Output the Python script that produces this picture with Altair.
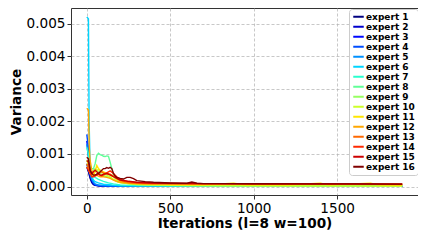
import altair as alt
import pandas as pd

names = [f"expert {i}" for i in range(1, 17)]
colors = ["#000080", "#0000CD", "#0008FF", "#004DFF", "#0091FF", "#00D5FF",
          "#29FFCE", "#60FF97", "#97FF60", "#CEFF29", "#FFE600", "#FFA700",
          "#FF6800", "#FF2900", "#CD0000", "#800000"]

it_a = [0, 10, 20, 30, 40, 50, 70, 100, 150, 200, 300, 500, 800, 1200, 1600, 1890]
e1 = [6, 4.5, 2.5, 1.2, 0.6, 0.35, 0.2, 0.15, 0.12, 0.1, 0.1, 0.08, 0.07, 0.06, 0.05, 0.05]
e2 = [7, 5, 3, 1.5, 0.8, 0.45, 0.25, 0.18, 0.14, 0.12, 0.1, 0.09, 0.08, 0.07, 0.06, 0.06]
e3 = [14, 10, 4, 2, 1, 0.5, 0.3, 0.22, 0.18, 0.15, 0.12, 0.1, 0.09, 0.08, 0.07, 0.06]
e4 = [16, 12, 5, 2.5, 1.2, 0.6, 0.35, 0.25, 0.2, 0.16, 0.13, 0.11, 0.1, 0.09, 0.08, 0.07]
e5 = [13, 9, 4, 2.2, 1.3, 0.8, 0.45, 0.3, 0.22, 0.18, 0.15, 0.12, 0.1, 0.09, 0.08, 0.07]

it_6 = [0, 10, 14, 20, 30, 40, 50, 70, 100, 150, 200, 300, 500, 800, 1200, 1600, 1890]
e6 = [52, 51.5, 20, 6, 3, 2, 1.5, 1.1, 0.7, 0.45, 0.3, 0.2, 0.15, 0.12, 0.1, 0.08, 0.08]

it_7 = [0, 10, 20, 30, 40, 50, 70, 100, 130, 160, 200, 250, 300, 500, 800, 1200, 1600, 1890]
e7 = [12, 10, 5, 3.5, 3, 2.8, 2.2, 1.6, 1.1, 0.8, 0.5, 0.35, 0.3, 0.2, 0.15, 0.12, 0.1, 0.1]

it_8 = [0, 10, 20, 30, 40, 50, 60, 70, 80, 90, 100, 110, 120, 130, 140, 150, 160, 170,
        180, 200, 250, 300, 400, 500, 800, 1200, 1600, 1890]
e8 = [8, 7, 5.5, 5.5, 5.5, 7, 9.5, 10.2, 9.8, 9.6, 9.3, 9.2, 9.4, 9.3, 7.5, 5.5, 3.5, 2.5,
      2, 1.4, 0.9, 0.6, 0.4, 0.3, 0.2, 0.15, 0.12, 0.1]

it_9 = [0, 10, 20, 30, 40, 50, 60, 70, 80, 100, 120, 140, 160, 180, 200, 250, 300, 400,
        500, 800, 1200, 1600, 1890]
e9 = [7, 6, 4.5, 4, 5, 5.5, 5, 4.5, 4, 3.5, 3, 2.8, 2, 1.5, 1.2, 0.8, 0.6, 0.4,
      0.35, 0.25, 0.2, 0.15, 0.12]
e10 = [6, 5.5, 4, 3.5, 4, 4.5, 5, 5.2, 4.8, 4, 3.5, 3, 2.2, 1.6, 1.2, 0.9, 0.7, 0.5,
       0.4, 0.3, 0.25, 0.2, 0.15]

it_11 = [0, 10, 20, 30, 40, 50, 60, 70, 80, 100, 120, 140, 160, 180, 200, 250, 300, 400,
         450, 500, 700, 880, 950, 1200, 1400, 1450, 1700, 1750, 1890]
e11 = [8, 7, 5, 3.5, 3.8, 4.5, 6.5, 5.5, 5, 4.5, 4, 3.5, 3, 2.2, 1.6, 1.2, 0.9, 0.8,
       1.2, 0.6, 0.5, 1.0, 0.5, 0.5, 1.0, 0.5, 1.0, 0.5, 0.4]

it_12 = [0, 10, 15, 20, 30, 40, 50, 60, 70, 80, 100, 120, 140, 160, 180, 200, 250, 300,
         400, 500, 700, 900, 1200, 1500, 1890]
e12 = [24, 23.5, 12, 8, 5, 4, 3.5, 3.5, 3.2, 3, 3, 2.8, 2.5, 2, 1.6, 1.3, 1, 0.8,
       0.7, 0.8, 0.7, 0.9, 0.7, 0.7, 0.6]

it_13 = [0, 10, 20, 30, 40, 50, 60, 70, 80, 90, 100, 120, 140, 160, 180, 200, 250, 300,
         400, 500, 700, 1000, 1300, 1600, 1890]
e13 = [7, 6, 4.5, 4, 3.5, 3.5, 3.8, 4, 4.3, 4.5, 4.2, 4, 3.8, 3.2, 2.5, 1.8, 1.2, 1,
       0.9, 0.9, 0.8, 0.8, 0.75, 0.7, 0.7]
e14 = [6, 5, 4, 3, 3, 3.2, 3.5, 3.8, 3.5, 3.3, 3.6, 4.2, 4.8, 4, 3, 2.2, 1.5, 1.2,
       1, 0.9, 0.9, 0.85, 0.8, 0.75, 0.7]
e15 = [8, 7.5, 5, 4, 4.5, 5, 4.5, 4, 3.5, 3.5, 3.8, 4, 3.6, 3, 2.5, 2, 1.6, 1.3,
       1.1, 1, 0.9, 0.85, 0.8, 0.8, 0.75]

it_16 = [0, 10, 20, 30, 40, 50, 60, 70, 80, 90, 100, 110, 120, 130, 140, 150, 160, 170,
         180, 200, 220, 240, 260, 280, 300, 350, 400, 500, 600, 630, 660, 700, 800, 1000,
         1300, 1600, 1890]
e16 = [9, 8.5, 5, 4, 3.5, 3.5, 3.8, 4, 4.5, 5, 5.5, 5.5, 5.8, 5.6, 5.9, 5.5, 4, 3.2,
       2.8, 2.5, 2.3, 2.8, 2.8, 2.4, 1.8, 1.5, 1.3, 1.1, 1.0, 1.4, 1.0, 0.9, 0.9, 0.85,
       0.8, 0.8, 0.75]

series = [(it_a, e1), (it_a, e2), (it_a, e3), (it_a, e4), (it_a, e5), (it_6, e6),
          (it_7, e7), (it_8, e8), (it_9, e9), (it_9, e10), (it_11, e11), (it_12, e12),
          (it_13, e13), (it_13, e14), (it_13, e15), (it_16, e16)]

rows = []
for k, (its, vals) in enumerate(series):
    for i, v in zip(its, vals):
        rows.append({"expert": names[k], "order": k, "iter": i, "var": v * 1e-4})
df = pd.DataFrame(rows)

FONT = "DejaVu Sans"

chart = alt.Chart(df).mark_line(strokeWidth=1.4, clip=True).encode(
    x=alt.X("iter:Q",
            scale=alt.Scale(domain=[-94.5, 1984.5], nice=False, zero=False),
            axis=alt.Axis(values=[0, 500, 1000, 1500], title="Iterations (l=8 w=100)",
                          format="d")),
    y=alt.Y("var:Q",
            scale=alt.Scale(domain=[-0.00026, 0.00548], nice=False, zero=False),
            axis=alt.Axis(values=[0, 0.001, 0.002, 0.003, 0.004, 0.005], format=".3f",
                          title="Variance")),
    color=alt.Color("expert:N",
                    scale=alt.Scale(domain=names, range=colors),
                    sort=names,
                    legend=alt.Legend(title=None, orient="none", legendX=278, legendY=1,
                                      symbolType="stroke", symbolSize=110,
                                      symbolStrokeWidth=2, labelFontSize=9,
                                      labelFontWeight="bold", labelFont=FONT,
                                      labelOffset=1, rowPadding=-0.3, clipHeight=9.5,
                                      padding=3, strokeColor="#cccccc",
                                      fillColor="white", cornerRadius=3)),
    detail="order:O",
).properties(
    width=347, height=187,
    autosize=alt.AutoSizeParams(type="none"),
    padding={"left": 63, "top": 0, "right": 0, "bottom": 37},
).configure_view(
    stroke="#333333", strokeWidth=1
).configure_axis(
    domain=False, grid=True, gridColor="#b0b0b0", gridDash=[3, 2], gridWidth=0.7,
    tickColor="#333333", tickSize=4, labelFont=FONT, labelFontSize=13.6,
    labelColor="black", titleFont=FONT, titleFontSize=13.6, titleFontWeight="bold",
    titleColor="black", labelPadding=2,
).configure_axisX(titlePadding=2).configure_axisY(titlePadding=3)

chart.save("out.html", embed_options={"renderer": "svg", "actions": False})
